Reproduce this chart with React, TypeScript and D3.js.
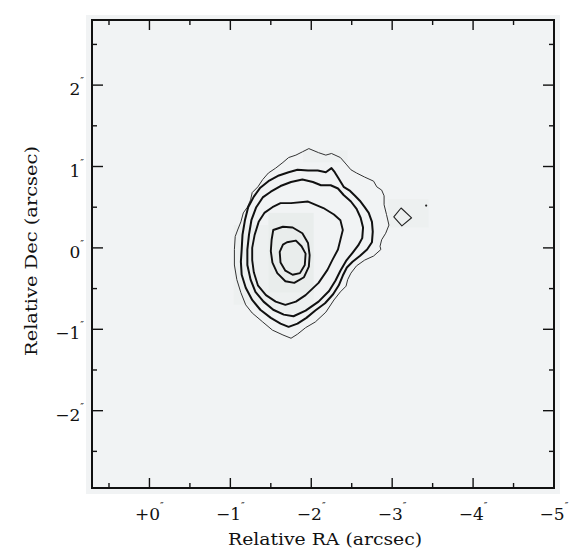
import React from 'react';
import * as d3 from 'd3';

// contour levels, [RA offset, Dec offset] in arcsec
const contourOuter: [number, number][] = [[-1.97,1.22],[-2.09,1.17],[-2.18,1.14],[-2.25,1.16],[-2.36,1.11],[-2.43,1.03],[-2.49,0.96],[-2.56,0.92],[-2.66,0.87],[-2.77,0.82],[-2.81,0.75],[-2.87,0.71],[-2.90,0.64],[-2.90,0.53],[-2.93,0.41],[-2.96,0.28],[-2.92,0.18],[-2.87,0.10],[-2.85,0.02],[-2.86,-0.02],[-2.77,-0.10],[-2.66,-0.15],[-2.56,-0.22],[-2.49,-0.31],[-2.45,-0.39],[-2.43,-0.47],[-2.36,-0.54],[-2.28,-0.64],[-2.18,-0.79],[-2.05,-0.91],[-1.93,-0.98],[-1.83,-1.06],[-1.75,-1.11],[-1.65,-1.07],[-1.52,-1.01],[-1.40,-0.91],[-1.27,-0.80],[-1.19,-0.70],[-1.13,-0.55],[-1.08,-0.39],[-1.05,-0.21],[-1.05,-0.02],[-1.06,0.14],[-1.09,0.22],[-1.13,0.32],[-1.16,0.43],[-1.21,0.50],[-1.25,0.59],[-1.27,0.68],[-1.34,0.75],[-1.40,0.84],[-1.47,0.92],[-1.56,0.98],[-1.65,1.05],[-1.72,1.11],[-1.81,1.14],[-1.89,1.18]];
const contour2: [number, number][] = [[-1.14,-0.02],[-1.15,0.16],[-1.18,0.34],[-1.22,0.50],[-1.29,0.63],[-1.37,0.74],[-1.47,0.82],[-1.60,0.89],[-1.72,0.93],[-1.83,0.96],[-1.96,0.95],[-2.08,0.95],[-2.18,0.93],[-2.25,0.98],[-2.29,0.93],[-2.34,0.85],[-2.40,0.75],[-2.48,0.70],[-2.54,0.64],[-2.60,0.58],[-2.66,0.50],[-2.71,0.43],[-2.75,0.32],[-2.76,0.20],[-2.75,0.07],[-2.69,-0.02],[-2.60,-0.10],[-2.51,-0.17],[-2.44,-0.24],[-2.39,-0.34],[-2.34,-0.46],[-2.27,-0.57],[-2.17,-0.68],[-2.05,-0.77],[-1.94,-0.86],[-1.83,-0.93],[-1.72,-0.97],[-1.62,-0.93],[-1.50,-0.86],[-1.37,-0.76],[-1.27,-0.64],[-1.19,-0.49],[-1.14,-0.33],[-1.13,-0.17]];
const contour3: [number, number][] = [[-1.21,-0.02],[-1.23,0.16],[-1.26,0.34],[-1.32,0.50],[-1.40,0.62],[-1.50,0.69],[-1.62,0.76],[-1.75,0.81],[-1.89,0.84],[-2.02,0.81],[-2.12,0.77],[-2.24,0.77],[-2.33,0.73],[-2.40,0.65],[-2.49,0.57],[-2.56,0.48],[-2.61,0.37],[-2.64,0.25],[-2.63,0.12],[-2.58,0.03],[-2.51,-0.06],[-2.43,-0.16],[-2.36,-0.28],[-2.30,-0.40],[-2.22,-0.53],[-2.09,-0.66],[-1.93,-0.77],[-1.78,-0.84],[-1.66,-0.82],[-1.53,-0.76],[-1.41,-0.66],[-1.31,-0.54],[-1.25,-0.39],[-1.21,-0.21]];
const contour4: [number, number][] = [[-1.62,0.55],[-1.75,0.55],[-1.96,0.57],[-2.15,0.49],[-2.28,0.41],[-2.36,0.34],[-2.39,0.22],[-2.36,0.10],[-2.33,-0.02],[-2.26,-0.15],[-2.20,-0.27],[-2.09,-0.43],[-1.93,-0.58],[-1.81,-0.66],[-1.68,-0.70],[-1.56,-0.66],[-1.44,-0.58],[-1.34,-0.46],[-1.29,-0.30],[-1.27,-0.15],[-1.27,0],[-1.30,0.16],[-1.35,0.32],[-1.42,0.43],[-1.52,0.50]];
const contour5: [number, number][] = [[-1.53,0.22],[-1.65,0.26],[-1.77,0.25],[-1.89,0.18],[-1.96,0.06],[-1.98,-0.09],[-1.97,-0.23],[-1.91,-0.36],[-1.79,-0.43],[-1.68,-0.41],[-1.58,-0.31],[-1.52,-0.18],[-1.50,-0.04],[-1.51,0.10]];
const contourPeak: [number, number][] = [[-1.70,0.07],[-1.81,0.09],[-1.88,0.02],[-1.93,-0.07],[-1.92,-0.21],[-1.86,-0.31],[-1.77,-0.33],[-1.68,-0.28],[-1.62,-0.18],[-1.61,-0.05],[-1.65,0.04]];
const contourBlob: [number, number][] = [[-3.11,0.49],[-3.24,0.37],[-3.12,0.27],[-3.02,0.38]];
const speck: [number, number] = [-3.42, 0.52];

// faint grey image pixels behind the contours: [ra0, dec0, ra1, dec1, level]
const pixelBlocks: [number, number, number, number, number][] = [
    [-1.04, 0.28, -1.47, -0.70, 1],
    [-1.47, -0.55, -2.03, -0.80, 1],
    [-1.90, 1.20, -2.45, 1.05, 1],
    [-2.95, 0.60, -3.45, 0.25, 1],
    [-1.47, 0.43, -2.03, -0.55, 2]
];

const raTicks = [0, -1, -2, -3, -4, -5];
const raLabels = ['+0', '\u22121', '\u22122', '\u22123', '\u22124', '\u22125'];
const raMinor = [0.5, -0.5, -1.5, -2.5, -3.5, -4.5];
const decTicks = [2, 1, 0, -1, -2];
const decLabels = ['2', '1', '0', '\u22121', '\u22122'];
const decMinor = [2.5, 1.5, 0.5, -0.5, -1.5, -2.5];

const font = '"DejaVu Serif", serif';

export default function App()
{
    let left = 92, right = 554, top = 20, bottom = 488;

    let x = d3.scaleLinear().domain([0.71, -5.0]).range([left, right]);
    let y = d3.scaleLinear().domain([-2.95, 2.8]).range([bottom, top]);

    let line = d3.line<[number, number]>()
        .x(d => x(d[0]))
        .y(d => y(d[1]))
        .curve(d3.curveLinearClosed);

    let contours = [
        {pts: contourOuter, w: 1, c: '#333'},
        {pts: contour2, w: 2, c: '#111'},
        {pts: contour3, w: 2, c: '#111'},
        {pts: contour4, w: 1.9, c: '#111'},
        {pts: contour5, w: 1.9, c: '#111'},
        {pts: contourPeak, w: 1.9, c: '#111'},
        {pts: contourBlob, w: 1.1, c: '#222'}
    ];

    let shade = ['#f1f3f4', '#edf0f0', '#e9edec'];

    return (
        <svg width={581} height={556} style={{position: 'absolute', left: 0, top: 0}}>
            <rect x={86} y={15} width={474} height={479} fill="#f1f3f4"/>

            {pixelBlocks.map((b, i) =>
                <rect key={'p' + i} x={x(b[0])} y={y(b[1])}
                      width={x(b[2]) - x(b[0])} height={y(b[3]) - y(b[1])}
                      fill={shade[b[4]]}/>
            )}

            {contours.map((c, i) =>
                <path key={'c' + i} d={line(c.pts) || ''} fill="none"
                      stroke={c.c} strokeWidth={c.w} strokeLinejoin="round"/>
            )}
            <circle cx={x(speck[0])} cy={y(speck[1])} r={1.1} fill="#222"/>

            {/* ticks on all four sides, pointing in */}
            {raTicks.map((t, i) =>
                <g key={'rx' + i} stroke="#111" strokeWidth={1.4}>
                    <line x1={x(t)} x2={x(t)} y1={bottom} y2={bottom - 10}/>
                    <line x1={x(t)} x2={x(t)} y1={top} y2={top + 10}/>
                </g>
            )}
            {raMinor.map((t, i) =>
                <g key={'rm' + i} stroke="#111" strokeWidth={1.4}>
                    <line x1={x(t)} x2={x(t)} y1={bottom} y2={bottom - 5}/>
                    <line x1={x(t)} x2={x(t)} y1={top} y2={top + 5}/>
                </g>
            )}
            {decTicks.map((t, i) =>
                <g key={'dy' + i} stroke="#111" strokeWidth={1.4}>
                    <line x1={left} x2={left + 11} y1={y(t)} y2={y(t)}/>
                    <line x1={right} x2={right - 11} y1={y(t)} y2={y(t)}/>
                </g>
            )}
            {decMinor.map((t, i) =>
                <g key={'dm' + i} stroke="#111" strokeWidth={1.4}>
                    <line x1={left} x2={left + 5} y1={y(t)} y2={y(t)}/>
                    <line x1={right} x2={right - 5} y1={y(t)} y2={y(t)}/>
                </g>
            )}

            <rect x={left} y={top} width={right - left} height={bottom - top}
                  fill="none" stroke="#111" strokeWidth={2}/>

            <g fontFamily={font} fill="#111">
                {raTicks.map((t, i) =>
                    <text key={'lx' + i} x={x(t)} y={520} textAnchor="middle" fontSize={17}>
                        {raLabels[i]}<tspan dy={-11} fontSize={10}>{'\u2033'}</tspan>
                    </text>
                )}
                {decTicks.map((t, i) =>
                    <text key={'ly' + i} x={84} y={y(t) + 10} textAnchor="end" fontSize={17}>
                        {decLabels[i]}<tspan dy={-11} fontSize={10}>{'\u2033'}</tspan>
                    </text>
                )}
                <text x={(left + right) / 2 + 2} y={545} textAnchor="middle" fontSize={16}
                      textLength={194} lengthAdjust="spacingAndGlyphs">
                    Relative RA (arcsec)
                </text>
                <text transform={'translate(37,' + ((top + bottom) / 2 - 3) + ') rotate(-90)'}
                      textAnchor="middle" fontSize={16} textLength={210} lengthAdjust="spacingAndGlyphs">
                    Relative Dec (arcsec)
                </text>
            </g>
        </svg>
    );
}
